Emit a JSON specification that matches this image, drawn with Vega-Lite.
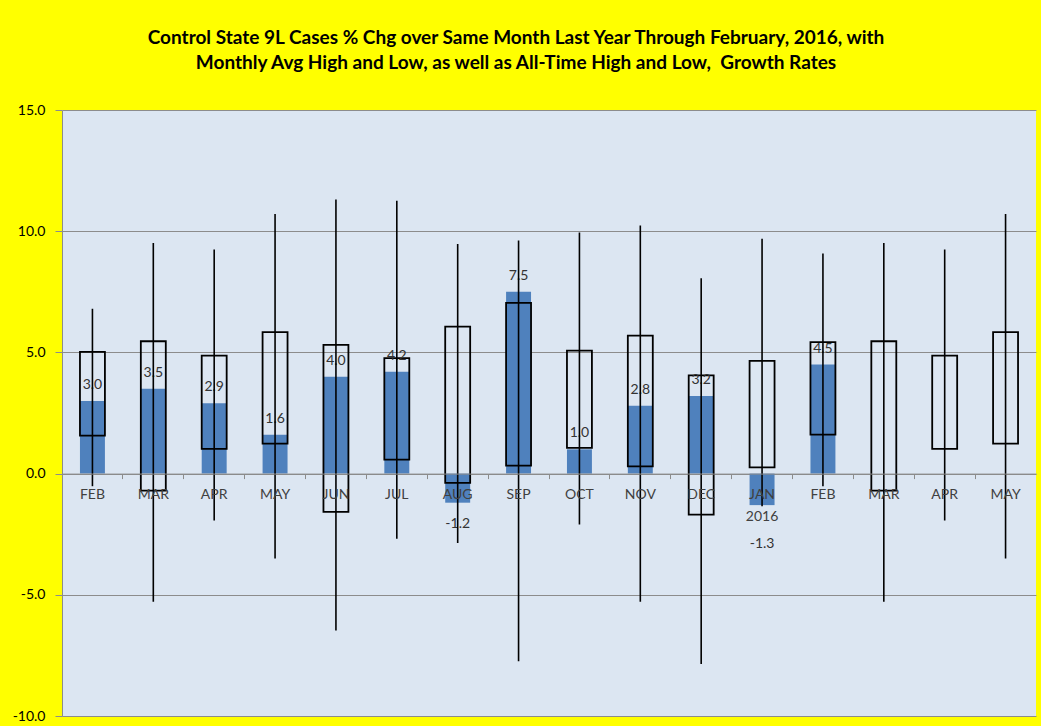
{
  "$schema": "https://vega.github.io/schema/vega-lite/v6.json",
  "autosize": {"type": "none"},
  "width": 974,
  "height": 606,
  "padding": {"left": 62, "top": 110, "right": 5, "bottom": 10},
  "background": "#FFFF00",
  "title": {
    "text": ["Control State 9L Cases % Chg over Same Month Last Year Through February, 2016, with", "Monthly Avg High and Low, as well as All-Time High and Low,\u00a0 Growth Rates"],
    "font": "Lato",
    "fontSize": 19,
    "fontWeight": "bold",
    "color": "#000000",
    "anchor": "middle",
    "dx": -33,
    "offset": 30,
    "lineHeight": 25
  },
  "config": {
    "view": {"fill": "#DCE6F2", "stroke": null},
    "font": "Lato",
    "locale": {
      "number": {"decimal": ".", "thousands": ",", "grouping": [3], "currency": ["$", ""], "minus": "-"}
    }
  },
  "data": {
    "values": [
      {"key": "FEB 2015", "actual": 3.0, "avgHigh": 5.02, "avgLow": 1.57, "allHigh": 6.8, "allLow": -0.52},
      {"key": "MAR 2015", "actual": 3.5, "avgHigh": 5.46, "avgLow": -0.7, "allHigh": 9.51, "allLow": -5.29},
      {"key": "APR 2015", "actual": 2.9, "avgHigh": 4.87, "avgLow": 1.02, "allHigh": 9.24, "allLow": -1.93},
      {"key": "MAY 2015", "actual": 1.6, "avgHigh": 5.84, "avgLow": 1.24, "allHigh": 10.71, "allLow": -3.5},
      {"key": "JUN 2015", "actual": 4.0, "avgHigh": 5.31, "avgLow": -1.58, "allHigh": 11.31, "allLow": -6.47},
      {"key": "JUL 2015", "actual": 4.2, "avgHigh": 4.76, "avgLow": 0.58, "allHigh": 11.26, "allLow": -2.69},
      {"key": "AUG 2015", "actual": -1.2, "avgHigh": 6.06, "avgLow": -0.38, "allHigh": 9.47, "allLow": -2.86},
      {"key": "SEP 2015", "actual": 7.5, "avgHigh": 7.04, "avgLow": 0.33, "allHigh": 9.62, "allLow": -7.74},
      {"key": "OCT 2015", "actual": 1.0, "avgHigh": 5.07, "avgLow": 1.06, "allHigh": 9.95, "allLow": -2.1},
      {"key": "NOV 2015", "actual": 2.8, "avgHigh": 5.69, "avgLow": 0.3, "allHigh": 10.23, "allLow": -5.29},
      {"key": "DEC 2015", "actual": 3.2, "avgHigh": 4.05, "avgLow": -1.69, "allHigh": 8.06, "allLow": -7.85},
      {"key": "JAN 2016", "actual": -1.3, "avgHigh": 4.65, "avgLow": 0.26, "allHigh": 9.69, "allLow": -1.35},
      {"key": "FEB 2016", "actual": 4.5, "avgHigh": 5.42, "avgLow": 1.61, "allHigh": 9.08, "allLow": -0.52},
      {"key": "MAR 2016", "actual": null, "avgHigh": 5.46, "avgLow": -0.7, "allHigh": 9.51, "allLow": -5.29},
      {"key": "APR 2016", "actual": null, "avgHigh": 4.87, "avgLow": 1.02, "allHigh": 9.24, "allLow": -1.93},
      {"key": "MAY 2016", "actual": null, "avgHigh": 5.84, "avgLow": 1.24, "allHigh": 10.71, "allLow": -3.5}
    ]
  },
  "resolve": {"axis": {"x": "independent"}},
  "layer": [
    {
      "mark": {"type": "bar", "color": "#4F81BD"},
      "encoding": {
        "x": {
          "field": "key", "type": "nominal", "sort": null,
          "scale": {"paddingInner": 0.59, "paddingOuter": 0.295},
          "axis": {
            "orient": "bottom",
            "title": null,
            "offset": -242.4,
            "zindex": 1,
            "ticks": false,
            "domain": true,
            "domainColor": "#8C8C8C",
            "grid": false,
            "labelAngle": 0,
            "labelFont": "Lato",
            "labelFontSize": 14,
            "labelColor": "#404040",
            "labelPadding": 14,
            "labelBaseline": "top",
            "labelLineHeight": 22,
            "labelExpr": "datum.value === 'JAN 2016' ? ['JAN', '2016'] : slice(datum.value, 0, 3)"
          }
        },
        "y": {
          "field": "actual", "type": "quantitative",
          "scale": {"domain": [-10, 15], "nice": false, "zero": false},
          "axis": {
            "title": null,
            "values": [-10, -5, 0, 5, 10, 15],
            "format": ".1f",
            "labelFont": "Lato",
            "labelFontSize": 14,
            "labelColor": "#000000",
            "labelPadding": 10,
            "tickSize": 7,
            "tickColor": "#8C8C8C",
            "domainColor": "#8C8C8C",
            "gridColor": "#8C8C8C",
            "gridOpacity": 1,
            "gridWidth": 1
          }
        }
      }
    },
    {
      "mark": {"type": "bar", "filled": false, "color": "#000000", "strokeWidth": 1.8},
      "encoding": {
        "x": {
          "field": "key", "type": "nominal", "sort": null,
          "axis": {
            "orient": "bottom",
            "title": null,
            "offset": -242.4,
            "zindex": 1,
            "bandPosition": -0.7195,
            "ticks": true,
            "tickSize": 5,
            "tickWidth": 1,
            "tickColor": "#8C8C8C",
            "labels": false,
            "domain": false,
            "grid": false
          }
        },
        "y": {"field": "avgLow", "type": "quantitative"},
        "y2": {"field": "avgHigh"}
      }
    },
    {
      "transform": [{"filter": "datum.actual > 0"}],
      "mark": {"type": "text", "baseline": "middle", "dy": -16, "fontSize": 14, "color": "#333333", "font": "Lato"},
      "encoding": {
        "x": {"field": "key", "type": "nominal", "sort": null, "axis": null},
        "y": {"field": "actual", "type": "quantitative"},
        "text": {"field": "actual", "type": "quantitative", "format": ".1f"}
      }
    },
    {
      "transform": [{"filter": "datum.actual < 0 && datum.key !== 'JAN 2016'"}],
      "mark": {"type": "text", "baseline": "middle", "dy": 21, "fontSize": 14, "color": "#333333", "font": "Lato"},
      "encoding": {
        "x": {"field": "key", "type": "nominal", "sort": null, "axis": null},
        "y": {"field": "actual", "type": "quantitative"},
        "text": {"field": "actual", "type": "quantitative", "format": ".1f"}
      }
    },
    {
      "transform": [{"filter": "datum.key === 'JAN 2016'"}],
      "mark": {"type": "text", "baseline": "middle", "dy": 39, "fontSize": 14, "color": "#333333", "font": "Lato"},
      "encoding": {
        "x": {"field": "key", "type": "nominal", "sort": null, "axis": null},
        "y": {"field": "actual", "type": "quantitative"},
        "text": {"field": "actual", "type": "quantitative", "format": ".1f"}
      }
    },
    {
      "mark": {"type": "rule", "color": "#000000", "strokeWidth": 1.6},
      "encoding": {
        "x": {"field": "key", "type": "nominal", "sort": null, "axis": null},
        "y": {"field": "allLow", "type": "quantitative"},
        "y2": {"field": "allHigh"}
      }
    }
  ]
}
